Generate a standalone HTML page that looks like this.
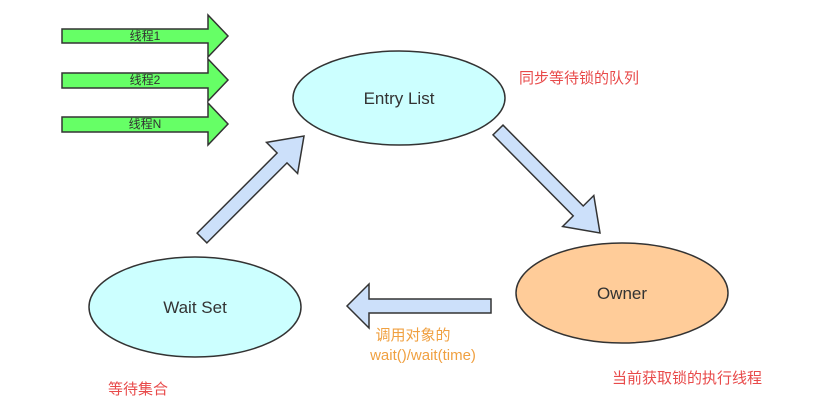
<!DOCTYPE html>
<html><head><meta charset="utf-8"><style>
body{margin:0;background:#fff;}
svg{display:block;font-family:"Liberation Sans","Noto Sans CJK SC",sans-serif;}
</style></head><body>
<svg id="s" width="824" height="419" viewBox="0 0 824 419" xmlns="http://www.w3.org/2000/svg">
<g stroke="#333" stroke-width="1.5">
<polygon points="62,29 208,29 208,15 228,36 208,57 208,43 62,43" fill="#66ff66"/>
<polygon points="62,73 208,73 208,59 228,80 208,101 208,88 62,88" fill="#66ff66"/>
<polygon points="62,117 208,117 208,103 228,124 208,145 208,132 62,132" fill="#66ff66"/>
<ellipse cx="399" cy="98" rx="106" ry="47" fill="#ccffff"/>
<ellipse cx="195" cy="307" rx="106" ry="50" fill="#ccffff"/>
<ellipse cx="622" cy="293" rx="106" ry="50" fill="#ffcc99"/>
<g id="arrows" fill="#cce0fa"></g>
<polygon points="491,299 369,299 369,284 347,306 369,328 369,313 491,313" fill="#cce0fa"/>
</g>
<g font-size="12" fill="#333" text-anchor="middle">
<text x="145" y="40">线程1</text>
<text x="145" y="84">线程2</text>
<text x="145" y="128">线程N</text>
</g>
<g font-size="17" fill="#333" text-anchor="middle">
<text x="399" y="104">Entry List</text>
<text x="195" y="313">Wait Set</text>
<text x="622" y="299">Owner</text>
</g>
<g font-size="15" fill="#e84a4a">
<text x="519" y="83">同步等待锁的队列</text>
<text x="108" y="394">等待集合</text>
<text x="612" y="383">当前获取锁的执行线程</text>
</g>
<g font-size="15" fill="#f0a040" text-anchor="middle">
<text x="413" y="340">调用对象的</text>
<text x="423" y="360">wait()/wait(time)</text>
</g>
</svg>
<script>
function arrow(x1,y1,x2,y2,sw,hw,hl){
 var dx=x2-x1,dy=y2-y1,L=Math.hypot(dx,dy),ux=dx/L,uy=dy/L,nx=-uy,ny=ux;
 var bx=x2-ux*hl,by=y2-uy*hl;
 var p=[[x1+nx*sw/2,y1+ny*sw/2],[bx+nx*sw/2,by+ny*sw/2],[bx+nx*hw/2,by+ny*hw/2],[x2,y2],
 [bx-nx*hw/2,by-ny*hw/2],[bx-nx*sw/2,by-ny*sw/2],[x1-nx*sw/2,y1-ny*sw/2]];
 var e=document.createElementNS("http://www.w3.org/2000/svg","polygon");
 e.setAttribute("points",p.map(function(q){return q[0].toFixed(1)+","+q[1].toFixed(1)}).join(" "));
 document.getElementById("arrows").appendChild(e);
}
arrow(202,238,304,136,14,44,31);
arrow(498,130,600,233,14,44,31);
</script>
</body></html>
